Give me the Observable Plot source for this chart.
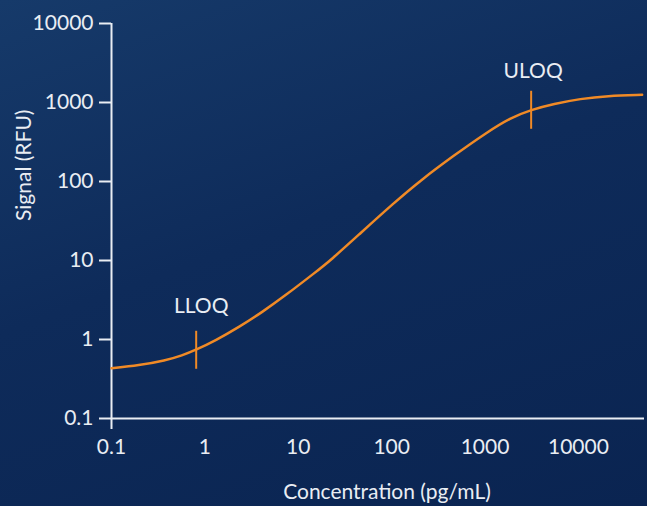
<!DOCTYPE html>
<html>
<head>
<meta charset="utf-8">
<script src="https://cdn.jsdelivr.net/npm/d3@7"></script>
<script src="https://cdn.jsdelivr.net/npm/@observablehq/plot@0.6"></script>
<style>
  html, body { margin: 0; padding: 0; }
  #chart {
    width: 647px; height: 506px; overflow: hidden;
    background: linear-gradient(160deg, #163a6a 0%, #0e2b5a 45%, #0a2451 100%);
  }
</style>
</head>
<body>
<div id="chart"></div>
<script>
// Standard curve
const concentration = [0.1, 0.196, 0.379, 0.571, 0.807, 1.30, 2.31, 4.11, 7.29, 15.3, 22.1, 46, 104, 203, 462, 1052, 1871, 3117, 5443, 10500, 20300, 48100];
const signal        = [0.434, 0.469, 0.542, 0.627, 0.741, 0.97, 1.43, 2.22, 3.61, 7.11, 10, 22, 52.7, 103, 213, 421, 640, 809, 963, 1114, 1216, 1251];

// Limits of quantification
const limitLabels = ["LLOQ", "ULOQ"];
const limitConc   = [0.807, 3117];
const limitSignal = [0.741, 809];

// Axis ticks
const xTicks = [0.1, 1, 10, 100, 1000, 10000];
const yTicks = [0.1, 1, 10, 100, 1000, 10000];

const curveData = concentration.map((c, i) => ({conc: c, sig: signal[i]}));
const limits = limitLabels.map((l, i) => ({label: l, conc: limitConc[i], sig: limitSignal[i]}));

const orange = "#f08a26";
const textColor = "#e9edf3";
const fmt = d => String(d);
const fs = 21;

const vbar = {
  draw(context, size) {
    const r = Math.sqrt(size / Math.PI);
    context.moveTo(0, -r);
    context.lineTo(0, r);
  }
};

const chart = Plot.plot({
  width: 647,
  height: 506,
  marginLeft: 111,
  marginTop: 23,
  marginBottom: 88,
  marginRight: 3,
  style: {fontFamily: "Lato, sans-serif", fontSize: fs + "px", color: textColor, background: "transparent"},
  x: {type: "log", domain: [0.1, 51000]},
  y: {type: "log", domain: [0.1, 10000]},
  marks: [
    Plot.axisY({ticks: yTicks, tickSize: 12, tickPadding: 6, tickFormat: fmt, strokeWidth: 2, label: null, fontSize: fs}),
    Plot.axisX({ticks: xTicks, tickSize: 0, tickPadding: 21, tickFormat: fmt, label: null, fontSize: fs}),
    Plot.axisX({ticks: [0.1], tickSize: 11, tickFormat: () => "", strokeWidth: 2, label: null}),
    Plot.ruleX([0.1], {stroke: textColor, strokeWidth: 2}),
    Plot.ruleY([0.1], {stroke: textColor, strokeWidth: 2}),
    Plot.line(curveData, {x: "conc", y: "sig", stroke: orange, strokeWidth: 2.5, curve: "basis"}),
    Plot.dot(limits, {x: "conc", y: "sig", symbol: vbar, r: 19, stroke: orange, strokeWidth: 2, fill: "none"}),
    Plot.text(limits.filter(d => d.label === "LLOQ"), {x: "conc", y: "sig", text: "label", dx: 5, dy: -44, fill: textColor, fontSize: fs}),
    Plot.text(limits.filter(d => d.label === "ULOQ"), {x: "conc", y: "sig", text: "label", dx: 2, dy: -39, fill: textColor, fontSize: fs}),
    Plot.text(["Signal (RFU)"], {frameAnchor: "left", dx: -87, rotate: -90, fill: textColor, fontSize: fs}),
    Plot.text(["Concentration (pg/mL)"], {frameAnchor: "bottom", dx: 9, dy: 80, fill: textColor, fontSize: fs})
  ]
});
document.getElementById("chart").appendChild(chart);
</script>
</body>
</html>
